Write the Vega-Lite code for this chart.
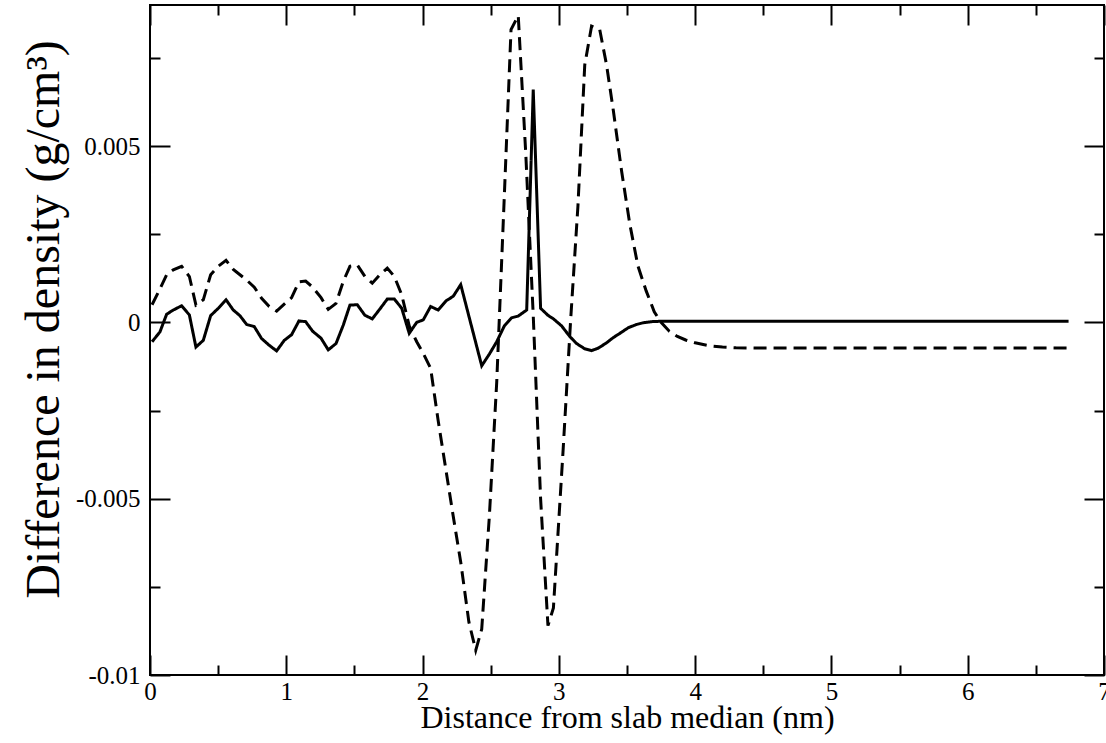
{
  "$schema": "https://vega.github.io/schema/vega-lite/v6.json",
  "width": 954,
  "height": 670,
  "autosize": {"type": "none"},
  "padding": {"left": 150, "top": 5, "right": 2, "bottom": 68},
  "background": "white",
  "config": {
    "view": {"stroke": "black", "strokeWidth": 2},
    "axis": {
      "domain": false,
      "grid": false,
      "tickColor": "black",
      "tickWidth": 2,
      "labelFlush": false,
      "labelOverlap": false,
      "titleFont": "Liberation Serif",
      "titleColor": "black",
      "titleFontWeight": "normal"
    }
  },
  "datasets": {
    "anchor": [{"x": 0, "y": 0}],
    "profiles": [
      {"x": 0.015, "y": -0.00055, "s": "solid"},
      {"x": 0.073, "y": -0.00027, "s": "solid"},
      {"x": 0.122, "y": 0.00023, "s": "solid"},
      {"x": 0.171, "y": 0.00035, "s": "solid"},
      {"x": 0.232, "y": 0.00047, "s": "solid"},
      {"x": 0.289, "y": 0.00021, "s": "solid"},
      {"x": 0.337, "y": -0.0007, "s": "solid"},
      {"x": 0.391, "y": -0.00051, "s": "solid"},
      {"x": 0.445, "y": 0.00019, "s": "solid"},
      {"x": 0.501, "y": 0.0004, "s": "solid"},
      {"x": 0.558, "y": 0.00064, "s": "solid"},
      {"x": 0.611, "y": 0.00035, "s": "solid"},
      {"x": 0.66, "y": 0.00019, "s": "solid"},
      {"x": 0.709, "y": -0.00006, "s": "solid"},
      {"x": 0.765, "y": -0.00012, "s": "solid"},
      {"x": 0.819, "y": -0.00046, "s": "solid"},
      {"x": 0.875, "y": -0.00065, "s": "solid"},
      {"x": 0.929, "y": -0.00081, "s": "solid"},
      {"x": 0.985, "y": -0.00051, "s": "solid"},
      {"x": 1.039, "y": -0.00035, "s": "solid"},
      {"x": 1.093, "y": 0.00004, "s": "solid"},
      {"x": 1.142, "y": 0.00002, "s": "solid"},
      {"x": 1.193, "y": -0.00025, "s": "solid"},
      {"x": 1.255, "y": -0.00045, "s": "solid"},
      {"x": 1.308, "y": -0.00078, "s": "solid"},
      {"x": 1.365, "y": -0.0006, "s": "solid"},
      {"x": 1.418, "y": -0.00008, "s": "solid"},
      {"x": 1.467, "y": 0.00049, "s": "solid"},
      {"x": 1.521, "y": 0.0005, "s": "solid"},
      {"x": 1.577, "y": 0.0002, "s": "solid"},
      {"x": 1.631, "y": 0.0001, "s": "solid"},
      {"x": 1.687, "y": 0.00038, "s": "solid"},
      {"x": 1.741, "y": 0.00066, "s": "solid"},
      {"x": 1.793, "y": 0.00066, "s": "solid"},
      {"x": 1.847, "y": 0.0004, "s": "solid"},
      {"x": 1.902, "y": -0.00031, "s": "solid"},
      {"x": 1.957, "y": 0.0, "s": "solid"},
      {"x": 2.005, "y": 0.00007, "s": "solid"},
      {"x": 2.059, "y": 0.00045, "s": "solid"},
      {"x": 2.115, "y": 0.00035, "s": "solid"},
      {"x": 2.172, "y": 0.00061, "s": "solid"},
      {"x": 2.225, "y": 0.00074, "s": "solid"},
      {"x": 2.28, "y": 0.00107, "s": "solid"},
      {"x": 2.434, "y": -0.00123, "s": "solid"},
      {"x": 2.49, "y": -0.0009, "s": "solid"},
      {"x": 2.544, "y": -0.00055, "s": "solid"},
      {"x": 2.6, "y": -0.0001, "s": "solid"},
      {"x": 2.654, "y": 0.00013, "s": "solid"},
      {"x": 2.702, "y": 0.00018, "s": "solid"},
      {"x": 2.764, "y": 0.00035, "s": "solid"},
      {"x": 2.812, "y": 0.0066, "s": "solid"},
      {"x": 2.866, "y": 0.0004, "s": "solid"},
      {"x": 2.92, "y": 0.0002, "s": "solid"},
      {"x": 2.96, "y": 0.0001, "s": "solid"},
      {"x": 3.02, "y": -0.0001, "s": "solid"},
      {"x": 3.08, "y": -0.0004, "s": "solid"},
      {"x": 3.13, "y": -0.0006, "s": "solid"},
      {"x": 3.19, "y": -0.00075, "s": "solid"},
      {"x": 3.24, "y": -0.0008, "s": "solid"},
      {"x": 3.29, "y": -0.00073, "s": "solid"},
      {"x": 3.35, "y": -0.00058, "s": "solid"},
      {"x": 3.4, "y": -0.00043, "s": "solid"},
      {"x": 3.46, "y": -0.00028, "s": "solid"},
      {"x": 3.51, "y": -0.00015, "s": "solid"},
      {"x": 3.57, "y": -0.00006, "s": "solid"},
      {"x": 3.62, "y": -0.00001, "s": "solid"},
      {"x": 3.68, "y": 0.00002, "s": "solid"},
      {"x": 3.74, "y": 0.00003, "s": "solid"},
      {"x": 3.8, "y": 0.00003, "s": "solid"},
      {"x": 4.0, "y": 0.00003, "s": "solid"},
      {"x": 4.5, "y": 0.00003, "s": "solid"},
      {"x": 5.0, "y": 0.00003, "s": "solid"},
      {"x": 5.5, "y": 0.00003, "s": "solid"},
      {"x": 6.0, "y": 0.00003, "s": "solid"},
      {"x": 6.5, "y": 0.00003, "s": "solid"},
      {"x": 6.74, "y": 0.00003, "s": "solid"},
      {"x": 0.015, "y": 0.0005, "s": "dashed"},
      {"x": 0.073, "y": 0.00095, "s": "dashed"},
      {"x": 0.122, "y": 0.00135, "s": "dashed"},
      {"x": 0.171, "y": 0.00149, "s": "dashed"},
      {"x": 0.232, "y": 0.00159, "s": "dashed"},
      {"x": 0.289, "y": 0.0013, "s": "dashed"},
      {"x": 0.337, "y": 0.00049, "s": "dashed"},
      {"x": 0.391, "y": 0.00064, "s": "dashed"},
      {"x": 0.445, "y": 0.00135, "s": "dashed"},
      {"x": 0.501, "y": 0.00159, "s": "dashed"},
      {"x": 0.558, "y": 0.00176, "s": "dashed"},
      {"x": 0.611, "y": 0.0015, "s": "dashed"},
      {"x": 0.66, "y": 0.00135, "s": "dashed"},
      {"x": 0.709, "y": 0.0012, "s": "dashed"},
      {"x": 0.765, "y": 0.001, "s": "dashed"},
      {"x": 0.819, "y": 0.00068, "s": "dashed"},
      {"x": 0.875, "y": 0.00045, "s": "dashed"},
      {"x": 0.929, "y": 0.00032, "s": "dashed"},
      {"x": 0.985, "y": 0.00052, "s": "dashed"},
      {"x": 1.039, "y": 0.0007, "s": "dashed"},
      {"x": 1.093, "y": 0.00115, "s": "dashed"},
      {"x": 1.142, "y": 0.00117, "s": "dashed"},
      {"x": 1.193, "y": 0.001, "s": "dashed"},
      {"x": 1.255, "y": 0.0007, "s": "dashed"},
      {"x": 1.308, "y": 0.00037, "s": "dashed"},
      {"x": 1.365, "y": 0.00054, "s": "dashed"},
      {"x": 1.418, "y": 0.00116, "s": "dashed"},
      {"x": 1.467, "y": 0.00159, "s": "dashed"},
      {"x": 1.521, "y": 0.00163, "s": "dashed"},
      {"x": 1.577, "y": 0.0013, "s": "dashed"},
      {"x": 1.631, "y": 0.00111, "s": "dashed"},
      {"x": 1.687, "y": 0.00135, "s": "dashed"},
      {"x": 1.741, "y": 0.00154, "s": "dashed"},
      {"x": 1.793, "y": 0.0013, "s": "dashed"},
      {"x": 1.847, "y": 0.00078, "s": "dashed"},
      {"x": 1.902, "y": -0.0001, "s": "dashed"},
      {"x": 1.957, "y": -0.00055, "s": "dashed"},
      {"x": 2.005, "y": -0.00088, "s": "dashed"},
      {"x": 2.059, "y": -0.0013, "s": "dashed"},
      {"x": 2.115, "y": -0.0028, "s": "dashed"},
      {"x": 2.172, "y": -0.0042, "s": "dashed"},
      {"x": 2.225, "y": -0.0055, "s": "dashed"},
      {"x": 2.28, "y": -0.0068, "s": "dashed"},
      {"x": 2.34, "y": -0.0085, "s": "dashed"},
      {"x": 2.39, "y": -0.0093, "s": "dashed"},
      {"x": 2.434, "y": -0.0087, "s": "dashed"},
      {"x": 2.49, "y": -0.0055, "s": "dashed"},
      {"x": 2.544, "y": -0.0017, "s": "dashed"},
      {"x": 2.6, "y": 0.0036, "s": "dashed"},
      {"x": 2.649, "y": 0.0083, "s": "dashed"},
      {"x": 2.702, "y": 0.0087, "s": "dashed"},
      {"x": 2.757, "y": 0.0048, "s": "dashed"},
      {"x": 2.812, "y": 0.0002, "s": "dashed"},
      {"x": 2.866, "y": -0.005, "s": "dashed"},
      {"x": 2.92, "y": -0.0086, "s": "dashed"},
      {"x": 2.96, "y": -0.0081, "s": "dashed"},
      {"x": 3.03, "y": -0.0037, "s": "dashed"},
      {"x": 3.087, "y": 0.0001, "s": "dashed"},
      {"x": 3.14, "y": 0.0033, "s": "dashed"},
      {"x": 3.19, "y": 0.0073, "s": "dashed"},
      {"x": 3.24, "y": 0.0084, "s": "dashed"},
      {"x": 3.3, "y": 0.0083, "s": "dashed"},
      {"x": 3.35, "y": 0.0073, "s": "dashed"},
      {"x": 3.4, "y": 0.006, "s": "dashed"},
      {"x": 3.46, "y": 0.0043, "s": "dashed"},
      {"x": 3.52, "y": 0.0028, "s": "dashed"},
      {"x": 3.58, "y": 0.0016, "s": "dashed"},
      {"x": 3.64, "y": 0.0009, "s": "dashed"},
      {"x": 3.7, "y": 0.0003, "s": "dashed"},
      {"x": 3.75, "y": 0.0, "s": "dashed"},
      {"x": 3.81, "y": -0.00025, "s": "dashed"},
      {"x": 3.87, "y": -0.0004, "s": "dashed"},
      {"x": 3.93, "y": -0.0005, "s": "dashed"},
      {"x": 4.0, "y": -0.00058, "s": "dashed"},
      {"x": 4.1, "y": -0.00066, "s": "dashed"},
      {"x": 4.2, "y": -0.0007, "s": "dashed"},
      {"x": 4.3, "y": -0.00072, "s": "dashed"},
      {"x": 4.5, "y": -0.00073, "s": "dashed"},
      {"x": 5.0, "y": -0.00073, "s": "dashed"},
      {"x": 5.5, "y": -0.00073, "s": "dashed"},
      {"x": 6.0, "y": -0.00073, "s": "dashed"},
      {"x": 6.5, "y": -0.00073, "s": "dashed"},
      {"x": 6.74, "y": -0.00073, "s": "dashed"}
    ]
  },
  "resolve": {"axis": {"x": "independent", "y": "independent"}},
  "layer": [
    {
      "data": {"name": "profiles"},
      "mark": {"type": "line", "color": "black", "strokeWidth": 3, "clip": true},
      "encoding": {
        "x": {
          "field": "x", "type": "quantitative",
          "scale": {"domain": [0, 7], "nice": false, "zero": false},
          "axis": {
            "orient": "bottom", "values": [0, 1, 2, 3, 4, 5, 6, 7], "format": "d",
            "ticks": false, "tickSize": 0, "labelPadding": 4,
            "labelFont": "Liberation Serif", "labelFontSize": 25, "labelColor": "black",
            "title": "Distance from slab median (nm)", "titleFontSize": 32,
            "titleBaseline": "alphabetic", "titleY": 52
          }
        },
        "y": {
          "field": "y", "type": "quantitative",
          "scale": {"domain": [-0.01, 0.009], "nice": false, "zero": false},
          "axis": {
            "orient": "left", "values": [-0.01, -0.005, 0, 0.005],
            "labelExpr": "datum.value > 0.001 ? '0.005' : datum.value > -0.001 ? '0' : datum.value > -0.0075 ? '-0.005' : '-0.01'",
            "ticks": false, "tickSize": 0, "labelPadding": 10,
            "labelFont": "Liberation Serif", "labelFontSize": 25, "labelColor": "black",
            "title": "Difference in density (g/cm³)", "titleFontSize": 48,
            "titleBaseline": "alphabetic", "titleAlign": "center", "titleX": -92, "titleY": 314
          }
        },
        "strokeDash": {
          "field": "s", "type": "nominal",
          "scale": {"domain": ["solid", "dashed"], "range": [[1, 0], [13, 7]]},
          "legend": null
        }
      }
    },
    {
      "data": {"name": "anchor"},
      "mark": {"type": "point", "opacity": 0},
      "encoding": {
        "x": {"field": "x", "type": "quantitative", "scale": {"domain": [0, 7], "nice": false, "zero": false},
          "axis": {"orient": "bottom", "values": [0, 1, 2, 3, 4, 5, 6, 7], "labels": false, "tickSize": -20, "title": null}},
        "y": {"field": "y", "type": "quantitative", "scale": {"domain": [-0.01, 0.009], "nice": false, "zero": false},
          "axis": {"orient": "left", "values": [-0.01, -0.005, 0, 0.005], "labels": false, "tickSize": -20, "title": null}}
      }
    },
    {
      "data": {"name": "anchor"},
      "mark": {"type": "point", "opacity": 0},
      "encoding": {
        "x": {"field": "x", "type": "quantitative", "scale": {"domain": [0, 7], "nice": false, "zero": false},
          "axis": {"orient": "top", "values": [0, 1, 2, 3, 4, 5, 6, 7], "labels": false, "tickSize": -20, "title": null}},
        "y": {"field": "y", "type": "quantitative", "scale": {"domain": [-0.01, 0.009], "nice": false, "zero": false},
          "axis": {"orient": "right", "values": [-0.01, -0.005, 0, 0.005], "labels": false, "tickSize": -20, "title": null}}
      }
    },
    {
      "data": {"name": "anchor"},
      "mark": {"type": "point", "opacity": 0},
      "encoding": {
        "x": {"field": "x", "type": "quantitative", "scale": {"domain": [0, 7], "nice": false, "zero": false},
          "axis": {"orient": "bottom", "values": [0.5, 1.5, 2.5, 3.5, 4.5, 5.5, 6.5], "labels": false, "tickSize": -10, "title": null}},
        "y": {"field": "y", "type": "quantitative", "scale": {"domain": [-0.01, 0.009], "nice": false, "zero": false},
          "axis": {"orient": "left", "values": [-0.0075, -0.0025, 0.0025, 0.0075], "labels": false, "tickSize": -10, "title": null}}
      }
    },
    {
      "data": {"name": "anchor"},
      "mark": {"type": "point", "opacity": 0},
      "encoding": {
        "x": {"field": "x", "type": "quantitative", "scale": {"domain": [0, 7], "nice": false, "zero": false},
          "axis": {"orient": "top", "values": [0.5, 1.5, 2.5, 3.5, 4.5, 5.5, 6.5], "labels": false, "tickSize": -10, "title": null}},
        "y": {"field": "y", "type": "quantitative", "scale": {"domain": [-0.01, 0.009], "nice": false, "zero": false},
          "axis": {"orient": "right", "values": [-0.0075, -0.0025, 0.0025, 0.0075], "labels": false, "tickSize": -10, "title": null}}
      }
    }
  ]
}
